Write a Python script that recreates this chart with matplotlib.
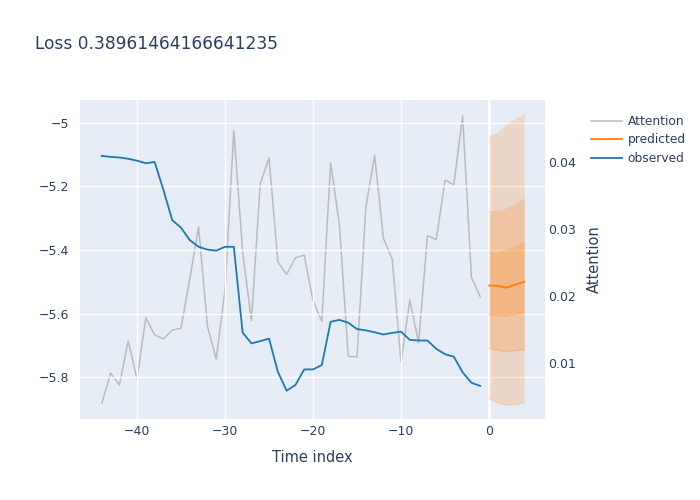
import matplotlib
matplotlib.use("Agg")
import matplotlib.pyplot as plt
from matplotlib.ticker import FuncFormatter

# observed history, t = -44 .. -1
obs_t = list(range(-44, 0))
observed = [-5.104, -5.107, -5.109, -5.113, -5.119, -5.127, -5.123, -5.211, -5.306, -5.330,
            -5.369, -5.390, -5.399, -5.402, -5.390, -5.390, -5.660, -5.694, -5.687, -5.679,
            -5.783, -5.843, -5.825, -5.776, -5.776, -5.762, -5.626, -5.620, -5.629, -5.649,
            -5.653, -5.659, -5.666, -5.661, -5.657, -5.683, -5.685, -5.685, -5.711, -5.728,
            -5.736, -5.785, -5.818, -5.828]
attention = [0.0040, 0.0085, 0.0067, 0.0133, 0.0076, 0.0168, 0.0142, 0.0136, 0.0149, 0.0152,
             0.0226, 0.0303, 0.0155, 0.0106, 0.0209, 0.0447, 0.0266, 0.0163, 0.0368, 0.0406,
             0.0251, 0.0232, 0.0257, 0.0261, 0.0193, 0.0162, 0.0399, 0.0306, 0.0110, 0.0109,
             0.0332, 0.0410, 0.0286, 0.0255, 0.0101, 0.0194, 0.0130, 0.0290, 0.0284, 0.0373,
             0.0366, 0.0469, 0.0228, 0.0199]

# forecast, t = 0 .. 4
pred_t = [0, 1, 2, 3, 4]
predicted = [-5.512, -5.513, -5.519, -5.509, -5.500]
q_low = [[-5.867, -5.882, -5.888, -5.886, -5.881],
         [-5.710, -5.716, -5.720, -5.717, -5.714],
         [-5.603, -5.606, -5.607, -5.602, -5.596]]
q_high = [[-5.042, -5.032, -5.006, -4.990, -4.975],
          [-5.281, -5.278, -5.271, -5.256, -5.239],
          [-5.409, -5.410, -5.400, -5.389, -5.376]]

txt = "#2a3f5f"
fig = plt.figure(figsize=(7, 5), dpi=100)
rect = [80/700, 1-419/500, 465/700, 319/500]
fig.patches.append(plt.Rectangle(rect[:2], rect[2], rect[3], transform=fig.transFigure,
                                 facecolor="#E5ECF6", zorder=-10))
ax = fig.add_axes(rect)
ax2 = ax.twinx()

for lo, hi in zip(q_low, q_high):
    ax.fill_between(pred_t, lo, hi, color="#ff7f0e", alpha=0.2, lw=0)
    ax.plot(pred_t, lo, color="#ff7f0e", alpha=0.15, lw=1)
    ax.plot(pred_t, hi, color="#ff7f0e", alpha=0.15, lw=1)
lp, = ax.plot(pred_t, predicted, color="#ff7f0e", lw=1.3, label="predicted")
lo_, = ax.plot(obs_t, observed, color="#1f77b4", lw=1.3, label="observed", zorder=3)
la, = ax2.plot(obs_t, attention, color="#bbbbbb", lw=1.1, label="Attention")
ax.set_zorder(ax2.get_zorder() + 1)
ax.patch.set_visible(False)
ax2.patch.set_visible(False)

ax.set_xlim(-46.48, 6.36)
ax.set_ylim(-5.932, -4.928)
ax2.set_ylim(0.001642, 0.04925)
ax.set_xticks([-40, -30, -20, -10, 0])
ax.set_yticks([-5, -5.2, -5.4, -5.6, -5.8])
ax2.set_yticks([0.01, 0.02, 0.03, 0.04])
fmt = FuncFormatter(lambda v, p: ("%g" % v).replace("-", "\u2212"))
ax.xaxis.set_major_formatter(fmt)
ax.yaxis.set_major_formatter(fmt)
ax2.yaxis.set_major_formatter(FuncFormatter(lambda v, p: "%g" % v))
ax.grid(True, color="white", lw=1)
ax.axvline(0, color="white", lw=2, zorder=0.5)
ax.set_axisbelow(True)
for a in (ax, ax2):
    for s in a.spines.values():
        s.set_visible(False)
    a.tick_params(length=0, labelsize=9, labelcolor=txt)
ax.tick_params(axis="x", pad=4)
ax.tick_params(axis="y", pad=8)
ax2.tick_params(axis="y", pad=2)
ax.set_xlabel("Time index", fontsize=10.5, color=txt, labelpad=9)
ax2.set_ylabel("Attention", fontsize=10.5, color=txt, labelpad=8)
fig.text(35/700, 1-44/500, "Loss 0.38961464166641235", fontsize=12.25, color=txt, va="center")
fig.legend([la, lp, lo_], ["Attention", "predicted", "observed"], loc="upper left",
           bbox_to_anchor=(580/700, 1-104/500), frameon=False, fontsize=8.8,
           labelcolor=txt, handlelength=2.5, labelspacing=0.45, handletextpad=0.5)
fig.savefig("out.png", dpi=100, facecolor="white")
